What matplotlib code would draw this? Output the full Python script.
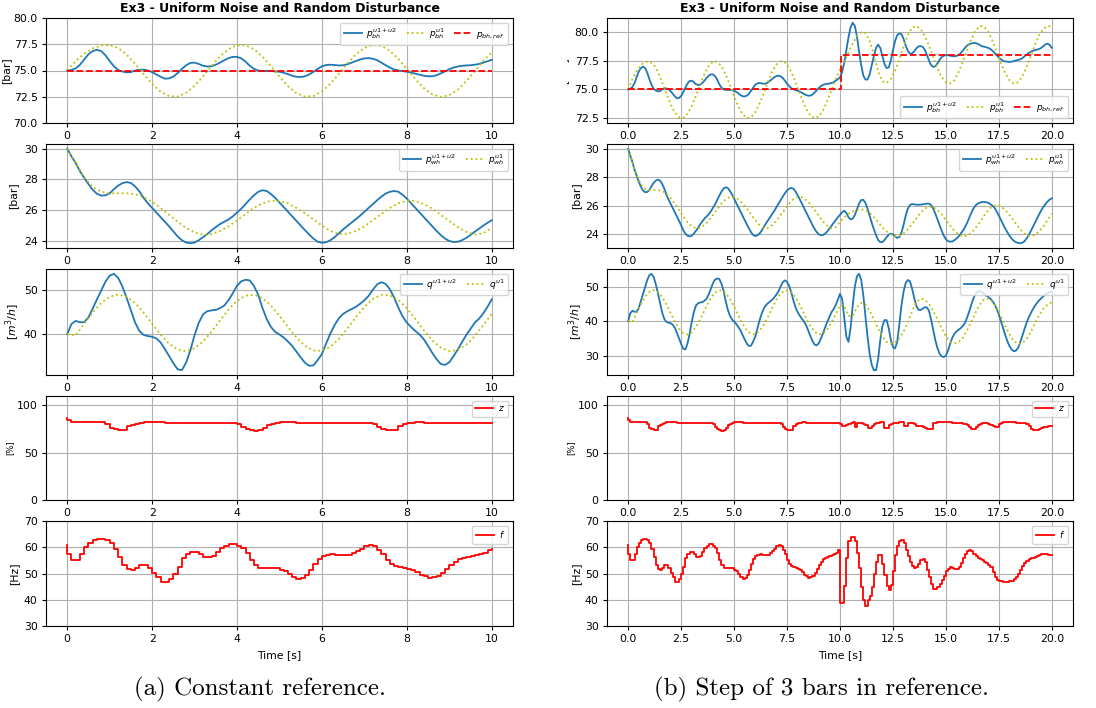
import numpy as np
import matplotlib
matplotlib.use("Agg")
import matplotlib.pyplot as plt
from matplotlib.transforms import Bbox, TransformedBbox

# ---------------------------------------------------------------- data
# time grids: 0.1 s for the closed-loop signals and the ZOH inputs, 0.2 s for u1 only
t_fine_a = np.round(np.arange(0, 10.0001, 0.1), 1)
t_coarse_a = np.round(np.arange(0, 10.0001, 0.2), 1)
t_fine_b = np.round(np.arange(0, 20.0001, 0.1), 1)
t_coarse_b = np.round(np.arange(0, 20.0001, 0.2), 1)

# bottom-hole pressure [bar], 0..10 s
pbh_u12_a = [75.00, 75.05, 75.20, 75.55, 76.05, 76.55, 76.85, 76.97, 76.85, 76.45,
             75.90, 75.40, 75.05, 74.90, 74.82, 74.85, 75.00, 75.08, 75.08, 75.00,
             74.85, 74.62, 74.40, 74.22, 74.25, 74.42, 74.75, 75.15, 75.50, 75.72,
             75.75, 75.62, 75.45, 75.38, 75.40, 75.55, 75.75, 75.98, 76.18, 76.30,
             76.30, 76.15, 75.85, 75.45, 75.15, 75.00, 74.95, 74.95, 74.95, 74.92,
             74.88, 74.78, 74.65, 74.50, 74.40, 74.38, 74.45, 74.62, 74.88, 75.15,
             75.40, 75.52, 75.55, 75.52, 75.48, 75.50, 75.60, 75.75, 75.90, 76.05,
             76.15, 76.18, 76.12, 75.98, 75.75, 75.50, 75.28, 75.10, 75.00, 74.95,
             74.88, 74.80, 74.70, 74.60, 74.50, 74.45, 74.45, 74.55, 74.72, 74.92,
             75.12, 75.28, 75.38, 75.45, 75.48, 75.50, 75.55, 75.62, 75.75, 75.88,
             76.02]
pbh_u1_a = [75.0, 75.9, 76.6, 77.1, 77.38, 77.42, 77.15, 76.51, 75.63, 74.65,
            73.72, 72.98, 72.56, 72.52, 72.87, 73.54, 74.45, 75.43, 76.34, 77.04,
            77.41, 77.40, 77.02, 76.31, 75.39, 74.41, 73.51, 72.84, 72.51, 72.57,
            73.01, 73.75, 74.68, 75.67, 76.54, 77.16, 77.44, 77.34, 76.87, 76.10,
            75.15, 74.17, 73.32, 72.73, 72.49, 72.65, 73.17, 73.98, 74.93, 75.91,
            76.72]
# bottom-hole pressure, 10.1..20 s (after the reference step)
pbh_u12_tail = [76.5, 77.3, 78.4, 79.5, 80.4, 80.78, 80.5, 79.6, 78.3, 77.1,
                76.2, 75.85, 75.85, 76.3, 77.1, 77.9, 78.6, 78.88, 78.6, 77.9,
                77.2, 76.85, 76.9, 77.5, 78.4, 79.2, 79.7, 79.85, 79.8, 79.4,
                78.8, 78.35, 78.1, 78.1, 78.3, 78.55, 78.72, 78.75, 78.7, 78.45,
                78.0, 77.5, 77.1, 76.95, 77.0, 77.25, 77.55, 77.8, 77.92, 77.97,
                77.97, 77.92, 77.88, 77.87, 77.9, 77.98, 78.15, 78.38, 78.6, 78.8,
                78.92, 78.98, 79.02, 79.02, 78.95, 78.85, 78.75, 78.7, 78.65, 78.6,
                78.5, 78.35, 78.15, 77.95, 77.75, 77.6, 77.48, 77.42, 77.4, 77.38,
                77.4, 77.45, 77.5, 77.55, 77.6, 77.7, 77.85, 78.0, 78.15, 78.25,
                78.35, 78.4, 78.45, 78.5, 78.6, 78.75, 78.9, 78.97, 78.85, 78.6]
pbh_u1_tail = [77.4, 78.2, 79.0, 79.6, 79.95, 79.9, 79.2, 78.0, 76.6, 75.7,
               75.55, 75.9, 76.6, 77.6, 78.7, 79.7, 80.35, 80.5, 80.25, 79.65,
               78.8, 77.8, 76.85, 76.05, 75.6, 75.5, 75.8, 76.5, 77.4, 78.4,
               79.35, 80.1, 80.5, 80.45, 80.0, 79.2, 78.25, 77.3, 76.4, 75.8,
               75.5, 75.6, 76.1, 76.9, 77.85, 78.85, 79.7, 80.25, 80.5, 80.45]
ref_t_a = [0.0, 10.0]
ref_a = [75.0, 75.0]
ref_t_b = [0.0, 10.05, 20.0]
ref_b = [75.0, 78.0, 78.0]

# well-head pressure [bar]
pwh_u12_a = [30.0, 29.5, 29.07, 28.53, 28.1, 27.7, 27.33, 27.07, 26.95, 26.97,
             27.1, 27.37, 27.6, 27.76, 27.83, 27.77, 27.55, 27.22, 26.8, 26.45,
             26.15, 25.85, 25.55, 25.25, 24.95, 24.62, 24.3, 24.05, 23.9, 23.85,
             23.9, 24.05, 24.25, 24.45, 24.7, 24.9, 25.1, 25.25, 25.4, 25.6,
             25.85, 26.1, 26.4, 26.7, 26.98, 27.2, 27.3, 27.25, 27.05, 26.8,
             26.5, 26.2, 25.9, 25.6, 25.3, 25.0, 24.7, 24.42, 24.15, 23.95,
             23.88, 23.92, 24.05, 24.25, 24.5, 24.75, 24.98, 25.2, 25.42, 25.65,
             25.9, 26.15, 26.4, 26.65, 26.88, 27.08, 27.2, 27.25, 27.2, 27.0,
             26.75, 26.45, 26.15, 25.85, 25.55, 25.25, 24.95, 24.65, 24.38, 24.15,
             24.0, 23.93, 23.95, 24.05, 24.2, 24.4, 24.6, 24.8, 25.0, 25.18,
             25.35]
pwh_u1_a = [30.0, 29.1, 28.15, 27.5, 27.2, 27.1, 27.1, 27.1, 27.05, 26.85,
            26.55, 26.15, 25.7, 25.25, 24.85, 24.55, 24.42, 24.45, 24.65, 24.95,
            25.35, 25.75, 26.15, 26.45, 26.62, 26.6, 26.45, 26.15, 25.8, 25.4,
            25.0, 24.65, 24.45, 24.45, 24.65, 24.95, 25.35, 25.75, 26.15, 26.45,
            26.62, 26.6, 26.4, 26.1, 25.7, 25.3, 24.9, 24.6, 24.42, 24.5,
            24.85]
pwh_u12_tail = [25.55, 25.65, 25.5, 25.2, 25.05, 25.1, 25.35, 25.75, 26.15, 26.4,
                26.42, 26.2, 25.8, 25.3, 24.8, 24.35, 23.95, 23.6, 23.45, 23.45,
                23.6, 23.8, 23.98, 24.05, 24.0, 23.85, 23.75, 23.8, 24.1, 24.65,
                25.3, 25.8, 26.05, 26.12, 26.1, 26.08, 26.07, 26.08, 26.1, 26.12,
                26.15, 26.15, 26.05, 25.8, 25.45, 25.05, 24.65, 24.25, 23.9, 23.65,
                23.52, 23.48, 23.5, 23.58, 23.7, 23.85, 24.05, 24.25, 24.5, 24.8,
                25.15, 25.5, 25.8, 26.02, 26.15, 26.22, 26.26, 26.27, 26.25, 26.2,
                26.12, 26.0, 25.85, 25.6, 25.3, 25.0, 24.7, 24.4, 24.15, 23.9,
                23.7, 23.55, 23.45, 23.4, 23.37, 23.4, 23.5, 23.68, 23.92, 24.2,
                24.5, 24.8, 25.1, 25.4, 25.68, 25.92, 26.12, 26.3, 26.43, 26.52]
pwh_u1_tail = [25.2, 25.45, 25.6, 25.7, 25.75, 25.7, 25.5, 25.2, 24.85, 24.5,
               24.2, 23.98, 23.88, 23.9, 24.05, 24.35, 24.7, 25.1, 25.5, 25.8,
               25.95, 25.9, 25.7, 25.4, 25.0, 24.6, 24.25, 23.98, 23.85, 23.9,
               24.1, 24.45, 24.85, 25.3, 25.7, 25.98, 26.05, 25.95, 25.7, 25.35,
               24.95, 24.55, 24.2, 23.95, 23.85, 23.95, 24.2, 24.55, 25.0, 25.45]

# flow rate [m3/h]
q_u12_a = [40.0, 42.3, 43.0, 42.7, 42.7, 43.8, 45.8, 47.9, 49.9, 51.9,
           53.3, 53.7, 52.8, 50.8, 48.2, 45.4, 42.6, 40.7, 39.8, 39.55,
           39.4, 39.0, 38.1, 36.6, 35.0, 33.4, 32.0, 31.8, 33.5, 36.3,
           39.8, 42.6, 44.5, 45.2, 45.4, 45.5, 45.9, 46.5, 47.7, 49.3,
           51.0, 52.0, 52.35, 52.2, 50.9, 48.9, 45.9, 43.4, 41.6, 40.5,
           39.9, 39.2, 38.3, 37.3, 36.0, 34.7, 33.5, 32.8, 32.9, 34.1,
           35.5, 37.9, 40.2, 42.1, 43.6, 44.6, 45.2, 45.7, 46.2, 46.9,
           47.7, 48.7, 50.1, 51.3, 51.8, 51.4, 50.2, 48.3, 46.0, 44.0,
           42.6, 41.6, 40.7, 39.9, 38.8, 37.3, 35.7, 34.3, 33.2, 33.0,
           33.6, 35.0, 36.5, 38.2, 39.8, 41.2, 42.6, 43.5, 44.7, 46.2,
           47.9]
q_u1_a = [40.0, 39.7, 42.36, 44.9, 47.05, 48.49, 49.0, 48.49, 47.05, 44.89,
          42.36, 39.87, 37.8, 36.47, 36.11, 36.76, 38.33, 40.57, 43.11, 45.58,
          47.56, 48.74, 48.96, 48.16, 46.47, 44.15, 41.61, 39.23, 37.32, 36.27,
          36.2, 37.14, 38.9, 41.29, 43.86, 46.2, 47.99, 48.91, 48.83, 47.75,
          45.85, 43.43, 40.87, 38.58, 36.92, 36.13, 36.37, 37.58, 39.58, 42.03,
          44.59]
q_u12_tail = [46.5, 41.0, 35.5, 34.0, 38.0, 44.5, 50.0, 53.0, 53.7, 52.0,
              47.5, 41.5, 35.5, 30.5, 27.3, 25.8, 25.8, 29.0, 34.5, 38.5,
              40.3, 40.3, 38.0, 34.5, 32.5, 32.1, 34.0, 39.0, 44.5, 48.5,
              51.0, 51.9, 51.6, 49.5, 46.8, 44.5, 43.3, 43.2, 43.6, 44.0,
              44.0, 43.0, 40.5, 37.5, 34.5, 32.2, 30.6, 29.8, 29.6, 30.0,
              31.5, 33.5, 35.2, 36.3, 37.0, 37.5, 38.0, 38.6, 39.5, 41.0,
              42.8, 44.8, 46.6, 47.9, 48.6, 48.7, 48.4, 47.9, 47.4, 47.0,
              46.5, 45.8, 44.8, 43.5, 41.9, 40.0, 38.0, 36.0, 34.2, 32.8,
              31.8, 31.3, 31.4, 32.2, 33.7, 35.6, 37.6, 39.4, 40.9, 42.2,
              43.4, 44.4, 45.3, 46.0, 46.6, 47.2, 47.7, 48.1, 48.4, 48.5]
q_u1_tail = [44.5, 41.5, 41.5, 44.0, 45.3, 44.8, 43.0, 40.5, 37.8, 35.6,
             34.0, 33.5, 33.8, 35.0, 37.0, 39.7, 42.8, 45.5, 46.5, 46.2,
             45.0, 43.0, 40.5, 37.9, 35.6, 34.0, 33.5, 33.9, 35.2, 37.3,
             39.9, 42.5, 44.8, 46.3, 46.5, 45.6, 43.8, 41.3, 38.6, 36.2,
             34.3, 33.4, 33.6, 34.8, 36.8, 39.3, 41.7, 43.6, 44.8, 45.5]

# choke opening z [%] (zero-order hold)
z_init = 86.7
z_a = [84.2, 82.5, 82.5, 82.6, 82.7, 82.8, 82.9, 82.9, 82.8, 80.8,
       76.5, 74.8, 73.9, 73.7, 77.8, 79.3, 80.6, 81.5, 82.0, 82.3,
       82.4, 82.3, 82.1, 81.9, 81.6, 81.4, 81.2, 81.1, 81.0, 81.0,
       81.0, 81.0, 81.0, 81.0, 81.0, 81.0, 81.0, 81.0, 81.0, 81.0,
       80.4, 77.2, 74.8, 73.8, 73.5, 73.7, 76.3, 78.8, 80.5, 81.5,
       82.0, 82.2, 82.2, 82.0, 81.8, 81.6, 81.4, 81.2, 81.1, 81.0,
       81.0, 81.0, 81.0, 81.0, 81.0, 81.0, 81.0, 81.0, 81.0, 81.0,
       81.0, 81.0, 80.3, 77.5, 75.3, 74.0, 73.7, 73.9, 77.8, 79.9,
       81.0, 81.7, 82.0, 82.0, 81.8, 81.6, 81.4, 81.2, 81.1, 81.0,
       81.0, 81.0, 81.0, 81.0, 81.0, 81.0, 81.0, 81.0, 81.0, 81.0,
       81.0]
z_tail = [80.5, 78.0, 78.0, 79.5, 80.0, 81.0, 82.0, 77.5, 81.5, 81.5,
          81.0, 80.5, 79.0, 76.5, 76.5, 78.5, 80.0, 81.0, 81.8, 82.2,
          82.3, 76.0, 76.0, 79.5, 80.5, 81.0, 81.5, 81.8, 82.0, 82.0,
          77.8, 77.8, 81.0, 81.3, 81.3, 80.5, 77.8, 77.8, 78.3, 77.0,
          75.8, 75.5, 75.5, 75.6, 81.0, 81.8, 82.2, 82.5, 82.6, 82.6,
          82.4, 82.2, 82.0, 81.8, 81.6, 81.4, 81.2, 81.0, 80.8, 80.5,
          79.8, 77.5, 75.5, 75.5, 77.5, 79.5, 80.5, 81.0, 81.2, 81.0,
          80.5, 79.5, 78.0, 77.0, 77.0, 80.0, 81.5, 82.3, 82.6, 82.6,
          82.4, 82.2, 82.0, 81.8, 81.6, 81.4, 81.2, 81.0, 80.5, 78.0,
          75.5, 74.5, 74.3, 74.5, 75.5, 76.5, 77.0, 77.5, 77.8, 77.8,
          77.8]

# pump frequency f [Hz] (zero-order hold)
f_init = 60.9
f_a = [57.3, 55.0, 55.1, 57.3, 60.0, 61.8, 62.8, 63.2, 63.2, 62.8,
       61.5, 59.2, 56.2, 53.2, 51.6, 51.3, 52.2, 53.2, 53.2, 52.0,
       50.3, 48.8, 46.9, 46.9, 47.9, 49.7, 52.6, 55.8, 57.3, 58.1,
       58.1, 57.3, 56.4, 56.4, 56.8, 58.1, 59.6, 60.6, 61.3, 61.3,
       60.6, 59.6, 57.7, 55.2, 53.2, 52.2, 52.0, 52.0, 52.2, 52.0,
       51.5, 50.8, 49.8, 48.8, 48.0, 48.3, 49.4, 51.3, 53.5, 55.5,
       56.8, 57.1, 57.3, 57.1, 57.0, 57.0, 57.2, 57.7, 58.5, 59.5,
       60.5, 60.9, 60.3, 59.0, 57.3, 55.2, 53.8, 53.0, 52.6, 52.2,
       51.7, 51.2, 50.5, 49.6, 48.9, 48.4, 48.5, 49.2, 50.3, 51.8,
       53.2, 54.5, 55.6, 56.0, 56.3, 56.6, 56.9, 57.4, 58.0, 58.8,
       59.2]
f_tail = [38.6, 38.6, 45.4, 55.8, 62.4, 64.0, 64.0, 62.2, 57.7, 52.0,
          45.0, 40.0, 37.8, 39.8, 41.5, 45.0, 50.0, 54.5, 57.2, 57.0,
          53.5, 49.5, 45.2, 43.8, 45.5, 51.0, 57.0, 60.5, 62.5, 62.8,
          61.5, 59.0, 56.5, 54.5, 53.0, 52.0, 52.5, 53.8, 55.0, 55.6,
          54.5, 51.5, 48.5, 46.0, 44.2, 44.1, 44.8, 46.0, 47.5, 49.2,
          50.8, 51.8, 52.3, 52.0, 51.6, 51.8, 52.6, 54.0, 55.8, 57.4,
          58.5, 59.1, 58.6, 57.5, 56.6, 56.0, 55.5, 55.0, 54.5, 54.0,
          53.3, 52.3, 50.5, 48.8, 47.7, 47.2, 47.0, 46.9, 46.9, 46.9,
          47.0, 47.3, 47.9, 48.8, 50.0, 51.4, 52.8, 54.0, 54.9, 55.5,
          55.8, 56.0, 56.2, 56.6, 57.0, 57.4, 57.5, 57.4, 57.0, 56.9,
          56.9]

# step-reference case reuses the first 10 s of the constant-reference run
pbh_u12_b = pbh_u12_a + pbh_u12_tail
pbh_u1_b = pbh_u1_a + pbh_u1_tail
pwh_u12_b = pwh_u12_a + pwh_u12_tail
pwh_u1_b = pwh_u1_a + pwh_u1_tail
q_u12_b = q_u12_a + q_u12_tail
q_u1_b = q_u1_a + q_u1_tail
z_b = z_a[:100] + z_tail
f_b = f_a[:100] + f_tail

xticks_a = [0, 2, 4, 6, 8, 10]
xticks_b = [0.0, 2.5, 5.0, 7.5, 10.0, 12.5, 15.0, 17.5, 20.0]
yticks_pbh_a = [70.0, 72.5, 75.0, 77.5, 80.0]
yticks_pbh_b = [72.5, 75.0, 77.5, 80.0]
yticks_pwh = [24, 26, 28, 30]
yticks_q_a = [40, 50]
yticks_q_b = [30, 40, 50]
yticks_z = [0, 50, 100]
yticks_f = [30, 40, 50, 60, 70]

title = "Ex3 - Uniform Noise and Random Disturbance"
captions = ["(a) Constant reference.", "(b) Step of 3 bars in reference."]

# ---------------------------------------------------------------- style
plt.rcParams.update({
    "font.family": "DejaVu Sans",
    "font.size": 7.8,
    "axes.linewidth": 0.8,
    "xtick.major.size": 3.0,
    "ytick.major.size": 3.0,
    "xtick.major.pad": 3.0,
    "ytick.major.pad": 3.0,
    "legend.fontsize": 6.5,
})

BLUE = "#1f77b4"
YEL = (0.75, 0.75, 0.0)
RED = "#ff0000"
LW = 1.3

W, H = 1096, 708
fig = plt.figure(figsize=(W / 100, H / 100), dpi=100)


def rect(l, t, r, b):
    return [l / W, 1 - b / H, (r - l) / W, (b - t) / H]


cols = [(46, 513), (607, 1073)]
rows = [(18, 123), (144, 248), (269, 375), (396, 500), (521, 626)]
label_x = [[6, 13, 13, 10, 14], [563, 576, 576, 571, 576]]
caption_x = [260, 821]
leg_kw = dict(handletextpad=0.5, columnspacing=1.0, borderpad=0.4, handlelength=2.0)

panels = [
    dict(t_f=t_fine_a, t_c=t_coarse_a, xt=xticks_a,
         pbh=(pbh_u12_a, pbh_u1_a, ref_t_a, ref_a, yticks_pbh_a, (70, 80), "upper right"),
         pwh=(pwh_u12_a, pwh_u1_a), q=(q_u12_a, q_u1_a, yticks_q_a),
         z=z_a, f=f_a),
    dict(t_f=t_fine_b, t_c=t_coarse_b, xt=xticks_b,
         pbh=(pbh_u12_b, pbh_u1_b, ref_t_b, ref_b, yticks_pbh_b, None, "lower right"),
         pwh=(pwh_u12_b, pwh_u1_b), q=(q_u12_b, q_u1_b, yticks_q_b),
         z=z_b, f=f_b),
]

for c, P in enumerate(panels):
    l, r = cols[c]
    axs = [fig.add_axes(rect(l, t, r, b)) for (t, b) in rows]
    tf, tc = P["t_f"], P["t_c"]
    t_zoh = np.r_[0.0, tf]

    # bottom-hole pressure
    u12, u1, rt, rv, yt, yl, loc = P["pbh"]
    ax = axs[0]
    ax.plot(tf, u12, color=BLUE, lw=LW, label=r"$p_{bh}^{u1+u2}$")
    ax.plot(tc, u1, ":", color=YEL, lw=LW, label=r"$p_{bh}^{u1}$")
    ax.plot(rt, rv, "--", color=RED, lw=LW, drawstyle="steps-post", label=r"$p_{bh,ref}$")
    if yl is not None:
        ax.set_ylim(*yl)
    ax.set_yticks(yt)
    ax.legend(loc=loc, ncol=3, **leg_kw)
    ax.set_ylabel("[bar]")
    ax.set_title(title, fontsize=9, fontweight="bold", pad=4)

    # well-head pressure
    u12, u1 = P["pwh"]
    ax = axs[1]
    ax.plot(tf, u12, color=BLUE, lw=LW, label=r"$p_{wh}^{u1+u2}$")
    ax.plot(tc, u1, ":", color=YEL, lw=LW, label=r"$p_{wh}^{u1}$")
    ax.set_yticks(yticks_pwh)
    ax.legend(loc="upper right", ncol=2, **leg_kw)
    ax.set_ylabel("[bar]")

    # flow rate
    u12, u1, yt = P["q"]
    ax = axs[2]
    ax.plot(tf, u12, color=BLUE, lw=LW, label=r"$q^{u1+u2}$")
    ax.plot(tc, u1, ":", color=YEL, lw=LW, label=r"$q^{u1}$")
    ax.set_yticks(yt)
    ax.legend(loc="upper right", ncol=2, **leg_kw)
    ax.set_ylabel(r"$[m^3/h]$")

    # choke opening
    ax = axs[3]
    ax.plot(t_zoh, np.r_[z_init, P["z"]], color=RED, lw=LW, drawstyle="steps-post", label=r"$z$")
    ax.set_ylim(0, 110)
    ax.set_yticks(yticks_z)
    ax.legend(loc="upper right", **leg_kw)
    ax.set_ylabel("[%]", fontsize=6)

    # pump frequency
    ax = axs[4]
    ax.plot(t_zoh, np.r_[f_init, P["f"]], color=RED, lw=LW, drawstyle="steps-post", label=r"$f$")
    ax.set_ylim(30, 70)
    ax.set_yticks(yticks_f)
    ax.legend(loc="upper right", **leg_kw)
    ax.set_ylabel("[Hz]")
    ax.set_xlabel("Time [s]")

    for i, ax in enumerate(axs):
        ax.set_xticks(P["xt"])
        ax.grid(True, color="#b0b0b0", lw=0.8)
        lab = ax.yaxis.label
        lab.set_verticalalignment("center")
        ax.yaxis.set_label_coords((label_x[c][i] - l) / (r - l), 0.5)

    if c == 1:
        lab = axs[0].yaxis.label
        lab.set_clip_box(TransformedBbox(Bbox.from_extents(567 / W, 0, 1, 1), fig.transFigure))
        lab.set_clip_on(True)

    fig.text(caption_x[c] / W, 1 - 695.5 / H, captions[c],
             family="cmr10", fontsize=18, ha="center", va="baseline")

fig.savefig("out.png", dpi=100)
